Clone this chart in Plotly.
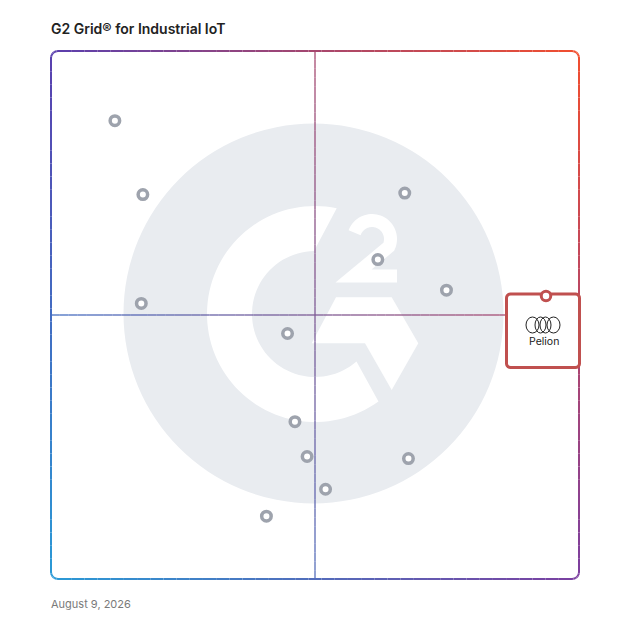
import numpy as np
import plotly.graph_objects as go

# G2 Grid scores (0-100): x = satisfaction, y = market presence
satisfaction = [12.1, 17.4, 17.1, 44.8, 61.9, 67.0, 74.9, 46.2, 48.5, 67.7, 52.0, 40.8]
market_presence = [86.8, 72.8, 52.2, 46.5, 60.5, 73.1, 54.7, 29.8, 23.2, 22.8, 17.0, 11.9]
highlight_name = ['Pelion']
highlight_x = [93.75]
highlight_y = [53.6]

title_text = 'G2 Grid® for Industrial IoT'
date_text = 'August 9, 2026'

# page geometry (pixels, page coords; the page body adds an 8px margin)
W = H = 628
BODY = 8
BOX_L, BOX_T, BOX_S = 51, 51, 528
PAD = 30

def to_data(px, py):
    return (px - BOX_L) / BOX_S * 100, (BOX_T + BOX_S - py) / BOX_S * 100

def path_from(pts, close=True):
    s = ''
    for i, (px, py) in enumerate(pts):
        x, y = to_data(px, py)
        s += ('M' if i == 0 else 'L') + f'{x:.3f},{y:.3f} '
    return s + ('Z' if close else '')

# corner colours of the gradient frame
TL = np.array([90, 63, 174])
TR = np.array([242, 78, 46])
BL = np.array([42, 154, 214])
BR = np.array([123, 63, 160])

def grad(px, py):
    u = min(max((px - BOX_L) / BOX_S, 0), 1)
    v = min(max((py - BOX_T) / BOX_S, 0), 1)
    c = (1 - v) * ((1 - u) * TL + u * TR) + v * ((1 - u) * BL + u * BR)
    return 'rgb(%d,%d,%d)' % tuple(c.round().astype(int))

def rounded_pts(x0, y0, x1, y1, r, n_side=40, n_arc=8):
    pts = []
    pts += [(x, y0) for x in np.linspace(x0 + r, x1 - r, n_side)]
    pts += [(x1 - r + r*np.cos(a), y0 + r + r*np.sin(a)) for a in np.linspace(-np.pi/2, 0, n_arc)]
    pts += [(x1, y) for y in np.linspace(y0 + r, y1 - r, n_side)]
    pts += [(x1 - r + r*np.cos(a), y1 - r + r*np.sin(a)) for a in np.linspace(0, np.pi/2, n_arc)]
    pts += [(x, y1) for x in np.linspace(x1 - r, x0 + r, n_side)]
    pts += [(x0 + r + r*np.cos(a), y1 - r + r*np.sin(a)) for a in np.linspace(np.pi/2, np.pi, n_arc)]
    pts += [(x0, y) for y in np.linspace(y1 - r, y0 + r, n_side)]
    pts += [(x0 + r + r*np.cos(a), y0 + r + r*np.sin(a)) for a in np.linspace(np.pi, 1.5*np.pi, n_arc)]
    pts.append(pts[0])
    return pts

shapes = []

# watermark logo
cx, cy = to_data(313.5, 313.5)
r = 190 / BOX_S * 100
shapes.append(dict(type='circle', xref='x', yref='y', x0=cx - r, x1=cx + r, y0=cy - r, y1=cy + r,
                   fillcolor='#e9ecf0', line=dict(width=0), layer='below'))

ccx, ccy = 315, 314
outer = [(ccx + 108*np.cos(a), ccy - 108*np.sin(a)) for a in np.radians(np.linspace(78.4, 306, 80))]
inner = [(ccx + 63*np.cos(a), ccy - 63*np.sin(a)) for a in np.radians(np.linspace(311.2, 90.9, 60))]
shapes.append(dict(type='path', xref='x', yref='y', path=path_from(outer + inner),
                   fillcolor='white', line=dict(width=0), layer='below'))

chevron = [(336, 297.3), (391.7, 297.3), (418.3, 343.3), (391.7, 390), (365, 343.3), (311.7, 343.3)]
shapes.append(dict(type='path', xref='x', yref='y', path=path_from(chevron),
                   fillcolor='white', line=dict(width=0), layer='below'))

two = [(372 + 18.5*np.cos(a), 239 - 18.5*np.sin(a)) for a in np.radians(np.linspace(160, -25, 40))]
two += [(353.5, 276), (397, 276)]
shapes.append(dict(type='path', xref='x', yref='y', path=path_from(two, close=False),
                   line=dict(color='white', width=13), layer='below'))

# quadrant dividers
mid = BOX_L + BOX_S / 2
ys = np.linspace(BOX_T, BOX_T + BOX_S, 61)
for a, b in zip(ys[:-1], ys[1:]):
    x0, y0 = to_data(mid, a)
    x1, y1 = to_data(mid, b)
    shapes.append(dict(type='line', xref='x', yref='y', x0=x0, y0=y0, x1=x1, y1=y1,
                       line=dict(color=grad(mid, (a + b) / 2), width=1.5), opacity=0.85, layer='below'))
xs = np.linspace(BOX_L, BOX_L + BOX_S, 61)
for a, b in zip(xs[:-1], xs[1:]):
    x0, y0 = to_data(a, mid)
    x1, y1 = to_data(b, mid)
    shapes.append(dict(type='line', xref='x', yref='y', x0=x0, y0=y0, x1=x1, y1=y1,
                       line=dict(color=grad((a + b) / 2, mid), width=1.5), opacity=0.85, layer='below'))

# gradient frame
frame = rounded_pts(BOX_L, BOX_T, BOX_L + BOX_S, BOX_T + BOX_S, 7)
for (a, b), (c, d) in zip(frame[:-1], frame[1:]):
    if abs(a - c) < 1e-6 and abs(b - d) < 1e-6:
        continue
    x0, y0 = to_data(a, b)
    x1, y1 = to_data(c, d)
    shapes.append(dict(type='line', xref='x', yref='y', x0=x0, y0=y0, x1=x1, y1=y1,
                       line=dict(color=grad((a + c) / 2, (b + d) / 2), width=2), layer='below'))

# highlight box for Pelion
shapes.append(dict(type='path', xref='x', yref='y',
                   path=path_from(rounded_pts(506.5, 294, 579.5, 367.5, 4, n_side=2, n_arc=6)),
                   fillcolor='white', line=dict(color='#c0504f', width=3), layer='below'))
for ex, rx in [(532.5, 6.5), (553.5, 6.5), (540.5, 5.5), (545.5, 5.5)]:
    x0, y0 = to_data(ex - rx, 317)
    x1, y1 = to_data(ex + rx, 333)
    shapes.append(dict(type='circle', xref='x', yref='y', x0=x0, x1=x1, y0=y0, y1=y1,
                       line=dict(color='#222222', width=1), layer='below'))

fig = go.Figure()
fig.add_trace(go.Scatter(x=satisfaction, y=market_presence, mode='markers',
                         marker=dict(size=9.5, color='white', line=dict(color='#9ea3ad', width=3.5)),
                         hoverinfo='skip'))
fig.add_trace(go.Scatter(x=highlight_x, y=highlight_y, mode='markers',
                         marker=dict(size=9.5, color='white', line=dict(color='#c0504f', width=3)),
                         hoverinfo='skip'))

x_lo = (PAD - BOX_L) / BOX_S * 100
x_hi = (W - PAD - BOX_L) / BOX_S * 100
y_lo = (BOX_T + BOX_S - (H - PAD)) / BOX_S * 100
y_hi = (BOX_T + BOX_S - PAD) / BOX_S * 100

def paper(px, py):
    return (px - PAD) / (W - 2*PAD), (H - PAD - py) / (H - 2*PAD)

tx, ty = paper(48.5, 29)
dx, dy = paper(48.5, 604)
lx, ly = to_data(544, 341)
annotations = [
    dict(text=title_text, xref='paper', yref='paper', x=tx, y=ty, xanchor='left', yanchor='middle',
         showarrow=False, font=dict(family='Inter', size=14, color='#222222', weight=600)),
    dict(text=date_text, xref='paper', yref='paper', x=dx, y=dy, xanchor='left', yanchor='middle',
         showarrow=False, font=dict(family='Inter', size=11, color='#7a7a7a')),
    dict(text=highlight_name[0], x=lx, y=ly, xanchor='center', yanchor='middle',
         showarrow=False, font=dict(family='Inter', size=10.5, color='#222222')),
]

fig.update_layout(
    width=W, height=H,
    margin=dict(l=PAD - BODY, r=PAD + BODY, t=PAD - BODY, b=PAD + BODY),
    paper_bgcolor='white', plot_bgcolor='white',
    showlegend=False,
    xaxis=dict(range=[x_lo, x_hi], visible=False, fixedrange=True),
    yaxis=dict(range=[y_lo, y_hi], visible=False, fixedrange=True),
    shapes=shapes,
    annotations=annotations,
)

fig.write_html('out.html')
